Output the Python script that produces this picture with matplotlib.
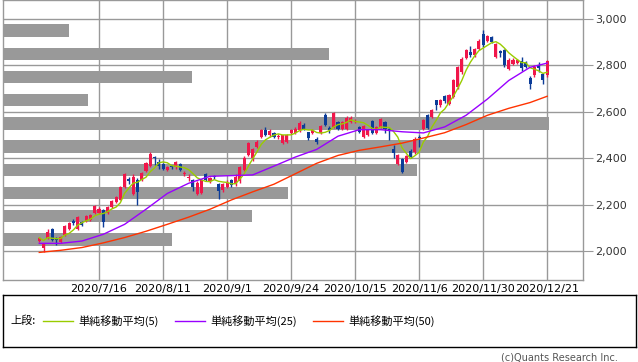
import numpy as np
import pandas as pd
import matplotlib
matplotlib.use("Agg")
import matplotlib.pyplot as plt
from matplotlib.lines import Line2D

# 日足 OHLC (2020/6/26 - 2020/12/21)
opens = [2043, 2011, 2054, 2097, 2054, 2040, 2069, 2095, 2128, 2093,
         2126, 2130, 2133, 2162, 2165, 2176, 2162, 2191, 2212, 2222,
         2277, 2310, 2245, 2305, 2305, 2345, 2365, 2405, 2385, 2375,
         2350, 2365, 2360, 2375, 2330, 2315, 2305, 2245, 2250, 2330,
         2300, 2322, 2290, 2262, 2275, 2308, 2290, 2300, 2350, 2415,
         2400, 2450, 2492, 2522, 2498, 2508, 2490, 2467, 2470, 2510,
         2510, 2520, 2545, 2512, 2510, 2484, 2510, 2585, 2532, 2535,
         2555, 2525, 2528, 2555, 2555, 2535, 2492, 2499, 2559, 2510,
         2535, 2556, 2528, 2441, 2377, 2398, 2384, 2431, 2427, 2490,
         2528, 2585, 2578, 2649, 2628, 2667, 2635, 2664, 2707, 2771,
         2833, 2857, 2843, 2871, 2936, 2905, 2922, 2836, 2860, 2865,
         2786, 2808, 2810, 2820, 2815, 2747, 2757, 2800, 2764, 2757]
highs = [2062, 2036, 2097, 2100, 2062, 2064, 2112, 2124, 2136, 2152,
         2130, 2155, 2160, 2198, 2188, 2180, 2192, 2220, 2238, 2282,
         2335, 2320, 2330, 2315, 2340, 2385, 2425, 2410, 2395, 2380,
         2368, 2370, 2390, 2380, 2345, 2330, 2310, 2300, 2310, 2335,
         2320, 2328, 2295, 2295, 2305, 2312, 2330, 2365, 2410, 2470,
         2445, 2480, 2525, 2535, 2525, 2512, 2505, 2502, 2505, 2525,
         2535, 2560, 2550, 2515, 2525, 2490, 2545, 2595, 2540, 2600,
         2560, 2560, 2580, 2580, 2568, 2540, 2545, 2525, 2565, 2540,
         2575, 2560, 2530, 2455, 2420, 2402, 2415, 2440, 2490, 2500,
         2570, 2590, 2612, 2652, 2655, 2672, 2675, 2740, 2798, 2835,
         2872, 2885, 2876, 2912, 2953, 2930, 2926, 2898, 2868, 2870,
         2830, 2830, 2828, 2835, 2820, 2755, 2800, 2815, 2768, 2822]
lows = [2040, 1997, 2050, 2043, 2025, 2036, 2065, 2090, 2110, 2090,
        2108, 2126, 2130, 2158, 2160, 2105, 2158, 2186, 2208, 2218,
        2270, 2290, 2240, 2198, 2300, 2340, 2360, 2370, 2355, 2350,
        2345, 2355, 2355, 2345, 2325, 2300, 2260, 2240, 2245, 2300,
        2295, 2310, 2225, 2255, 2270, 2278, 2280, 2295, 2345, 2410,
        2390, 2445, 2488, 2495, 2492, 2485, 2482, 2460, 2465, 2505,
        2505, 2515, 2520, 2480, 2505, 2462, 2505, 2538, 2510, 2530,
        2520, 2520, 2522, 2550, 2550, 2508, 2488, 2495, 2505, 2505,
        2530, 2510, 2480, 2400, 2370, 2338, 2378, 2400, 2420, 2450,
        2520, 2525, 2572, 2608, 2622, 2640, 2630, 2660, 2700, 2765,
        2828, 2835, 2838, 2866, 2880, 2900, 2895, 2830, 2835, 2795,
        2780, 2800, 2805, 2775, 2790, 2700, 2750, 2772, 2718, 2752]
closes = [2057, 2033, 2083, 2047, 2047, 2059, 2108, 2119, 2122, 2148,
          2112, 2150, 2155, 2194, 2183, 2126, 2188, 2216, 2234, 2277,
          2330, 2300, 2320, 2255, 2335, 2380, 2420, 2400, 2365, 2355,
          2362, 2360, 2385, 2350, 2338, 2320, 2275, 2295, 2305, 2305,
          2315, 2318, 2260, 2290, 2295, 2285, 2320, 2360, 2400, 2465,
          2440, 2472, 2520, 2500, 2518, 2490, 2496, 2498, 2500, 2520,
          2527, 2552, 2525, 2485, 2520, 2472, 2540, 2542, 2522, 2596,
          2525, 2555, 2575, 2575, 2562, 2513, 2539, 2520, 2510, 2535,
          2571, 2528, 2520, 2423, 2413, 2341, 2409, 2406, 2484, 2487,
          2565, 2530, 2606, 2628, 2649, 2647, 2671, 2735, 2793, 2829,
          2867, 2843, 2871, 2907, 2886, 2925, 2900, 2893, 2855, 2800,
          2825, 2825, 2822, 2790, 2795, 2718, 2793, 2788, 2735, 2819]

# 25日・50日移動平均 (チャートから読み取り、5本おき)
ma_idx = [0, 5, 10, 15, 20, 25, 30, 35, 40, 45, 50, 55, 60, 65, 70, 75,
          80, 85, 90, 95, 100, 105, 110, 115, 119]
ma25 = [2033, 2033, 2043, 2072, 2115, 2180, 2248, 2292, 2322, 2325, 2328,
        2366, 2405, 2438, 2495, 2523, 2523, 2514, 2509, 2535, 2585, 2655,
        2735, 2792, 2810]
ma50 = [1994, 2003, 2015, 2035, 2058, 2085, 2115, 2146, 2180, 2220, 2255,
        2288, 2333, 2378, 2412, 2434, 2449, 2465, 2487, 2510, 2545, 2585,
        2615, 2640, 2667]

# 価格帯別出来高 (相対値 %)
vol_price = [2050, 2150, 2250, 2350, 2450, 2550, 2650, 2750, 2850, 2950]
vol_share = [29.1, 42.9, 49.1, 71.3, 82.2, 94.1, 14.7, 32.6, 56.2, 11.4]

tick_pos = [14, 29, 44, 59, 74, 89, 104, 119]
tick_labels = ['2020/7/16', '2020/8/11', '2020/9/1', '2020/9/24',
               '2020/10/15', '2020/11/6', '2020/11/30', '2020/12/21']

UP = '#f0164a'
DOWN = '#0c3c98'
GRID = '#999999'

fig = plt.figure(figsize=(6.38, 3.62), dpi=100)
ax = fig.add_axes([3 / 638, 1 - 280 / 362, 580 / 638, 280 / 362])

o = np.array(opens, float)
h = np.array(highs, float)
l = np.array(lows, float)
c = np.array(closes, float)
x = np.arange(len(c))

# grid
for t in tick_pos:
    ax.axvline(t, color=GRID, lw=1, zorder=0)
for yv in range(2000, 3001, 200):
    ax.axhline(yv, color=GRID, lw=1, zorder=0)

# volume by price bars (x in axes fraction)
ax.barh(vol_price, np.array(vol_share) / 100, height=54, left=0,
        color='#999999', transform=ax.get_yaxis_transform(), zorder=1)

# candles
cols = np.where(c >= o, UP, DOWN)
ax.vlines(x, l, h, colors=cols, lw=1, zorder=2)
body = np.maximum(np.abs(c - o), 2.5)
ax.bar(x, body, bottom=np.minimum(o, c), width=0.72, color=cols,
       linewidth=0, zorder=3)

# moving averages
sma5 = pd.Series(c).rolling(5, min_periods=1).mean()
ax.plot(x, sma5, color='#99cc00', lw=1, zorder=4)
ax.plot(ma_idx, ma25, color='#9900ff', lw=1, zorder=4)
ax.plot(ma_idx, ma50, color='#ff3300', lw=1, zorder=4)

ax.set_xlim(-8.5, 127.4)
ax.set_ylim(1875, 3082)
ax.set_xticks(tick_pos)
ax.set_xticklabels(tick_labels, fontsize=8)
ax.tick_params(axis='x', length=0, pad=3)
ax.yaxis.tick_right()
ax.set_yticks(range(2000, 3001, 200))
ax.set_yticklabels([f'{v:,}' for v in range(2000, 3001, 200)], fontsize=8,
                   color='#333333')
ax.tick_params(axis='y', length=7, color=GRID, pad=2)
for s in ax.spines.values():
    s.set_color(GRID)
    s.set_linewidth(1)

# legend box
jp = ['Noto Sans CJK JP', 'DejaVu Sans']
lax = fig.add_axes([3 / 638, 1 - 347 / 362, 633 / 638, 52 / 362])
lax.set_xticks([])
lax.set_yticks([])
for s in lax.spines.values():
    s.set_color('black')
    s.set_linewidth(1)
lax.text(0.012, 0.5, '上段:', family=jp, fontsize=8, va='center')
handles = [Line2D([], [], color='#99cc00', lw=1),
           Line2D([], [], color='#9900ff', lw=1),
           Line2D([], [], color='#ff3300', lw=1)]
labels = ['単純移動平均(5)', '単純移動平均(25)', '単純移動平均(50)']
lax.legend(handles, labels, ncol=3, loc='center left',
           bbox_to_anchor=(0.056, 0.5), frameon=False,
           prop={'family': jp, 'size': 8}, handlelength=2.7,
           handletextpad=0.45, columnspacing=1.5, borderaxespad=0)

fig.text(618 / 638, 1 - 357 / 362, '(c)Quants Research Inc.', fontsize=7,
         color='#555555', ha='right', va='center')

fig.savefig('out.png', dpi=100)
